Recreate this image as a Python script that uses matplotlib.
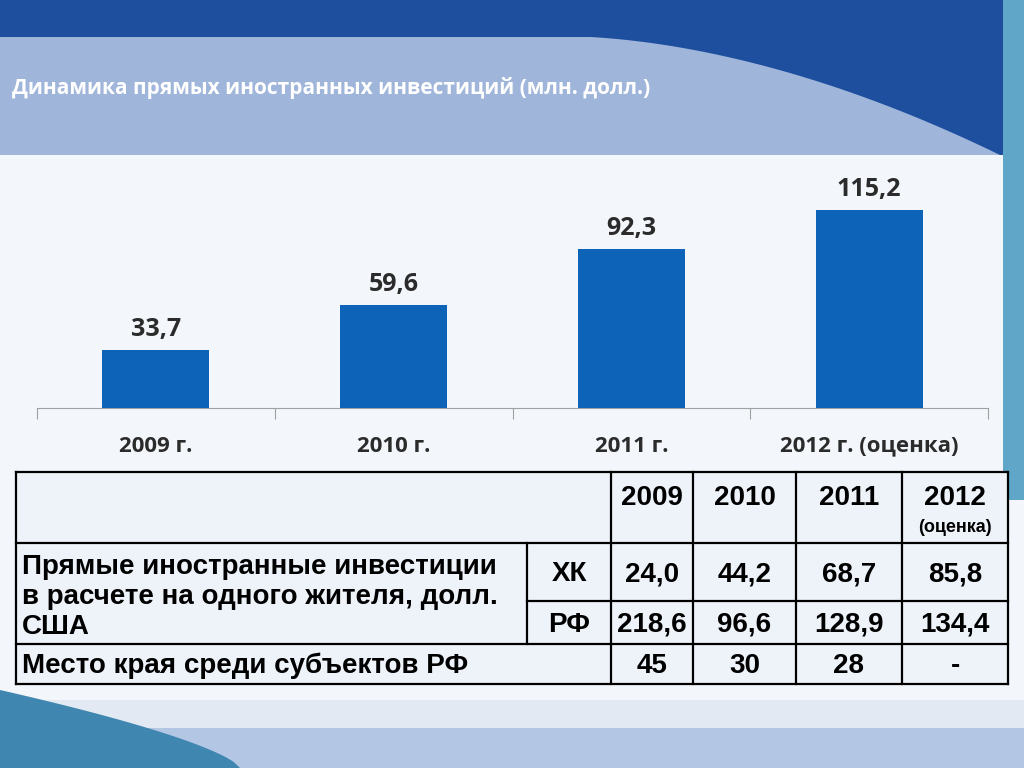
import numpy as np
import matplotlib.pyplot as plt
from matplotlib.patches import Rectangle, Polygon

# bar chart data
years = ["2009 г.", "2010 г.", "2011 г.", "2012 г. (оценка)"]
fdi = [33.7, 59.6, 92.3, 115.2]
value_labels = ["33,7", "59,6", "92,3", "115,2"]

# table data
tbl_years = ["2009", "2010", "2011", "2012"]
per_capita_label = "Прямые иностранные инвестиции\nв расчете на одного жителя, долл.\nСША"
hk_vals = ["24,0", "44,2", "68,7", "85,8"]
rf_vals = ["218,6", "96,6", "128,9", "134,4"]
rank_label = "Место края среди субъектов РФ"
rank_vals = ["45", "30", "28", "-"]

W, H = 1024, 768
BAR_COLOR = "#0d63b7"
NARROW = ["Liberation Sans", "DejaVu Sans"]
HEAD = ["Open Sans", "DejaVu Sans"]


def fx(x):
  return x / W


def fy(y):
  return 1 - y / H


def prect(fig, x0, y0, x1, y1, color, z=0):
  fig.patches.append(Rectangle((fx(x0), fy(y1)), fx(x1 - x0), (y1 - y0) / H,
                               transform=fig.transFigure, color=color, zorder=z, lw=0))


def pline(fig, x0, y0, x1, y1, lw=1.6, color="black"):
  fig.add_artist(plt.Line2D([fx(x0), fx(x1)], [fy(y0), fy(y1)], transform=fig.transFigure,
                            color=color, lw=lw, zorder=5))


fig = plt.figure(figsize=(10.24, 7.68), dpi=100)
fig.patch.set_facecolor("#f3f6fb")

# background bands
prect(fig, 0, 0, W, 37, "#1e4f9f")
prect(fig, 0, 37, W, 155, "#9fb5da")
s = np.linspace(0, 1, 40)
pts = [(fx(560 + 440 * t), fy(36 + 119 * t ** 1.8)) for t in s] + [(1, fy(155)), (1, fy(36))]
fig.patches.append(Polygon(pts, closed=True, transform=fig.transFigure, color="#1e4f9f", lw=0, zorder=0))
prect(fig, 1003, 0, W, 500, "#5fa6c8")
prect(fig, 0, 700, W, 728, "#e3e9f2")
prect(fig, 0, 728, W, H, "#b3c6e4")
bl = [(fx(0), fy(690)), (fx(0), fy(768)), (fx(240), fy(768))] + \
     [(fx(240 * (1 - t)), fy(768 - 78 * t ** 0.7)) for t in s]
fig.patches.append(Polygon(bl, closed=True, transform=fig.transFigure, color="#3f86b0", lw=0, zorder=0))

fig.text(fx(12), fy(88), "Динамика прямых иностранных инвестиций (млн. долл.)",
         color="white", fontsize=15, fontweight="bold", family=HEAD, va="center", ha="left")

# bar chart
ax = fig.add_axes([fx(37), fy(408), fx(988 - 37), (408 - 160) / H])
ax.patch.set_alpha(0)
x = np.arange(len(years))
bars = ax.bar(x, fdi, width=0.45, color=BAR_COLOR, zorder=3)
for b, lab in zip(bars, value_labels):
  ax.annotate(lab, (b.get_x() + b.get_width() / 2, b.get_height()), xytext=(0, 6),
              textcoords="offset points", ha="center", va="bottom",
              fontsize=18, fontweight="bold", family=HEAD, color="#2b2b2b")
ax.set_xlim(-0.5, len(years) - 0.5)
ax.set_ylim(0, 144.2)
ax.set_yticks([])
for sp in ["left", "right", "top"]:
  ax.spines[sp].set_visible(False)
ax.spines["bottom"].set_color("#a0a0a0")
ax.set_xticks(np.arange(len(years) + 1) - 0.5)
ax.set_xticklabels([])
ax.tick_params(axis="x", length=8, color="#a0a0a0", direction="out")
ax.set_xticks(x, minor=True)
ax.set_xticklabels(years, minor=True, fontsize=16, fontweight="bold", family=HEAD, color="#2b2b2b")
ax.tick_params(axis="x", which="minor", length=0, pad=20)

# table
prect(fig, 16, 472, 1008, 684, "#eef3fa", z=1)
cols = [16, 527, 611, 693, 796, 902, 1008]
for y in [472, 543, 644, 684]:
  pline(fig, 16, y, 1008, y)
pline(fig, 527, 601, 1008, 601)
pline(fig, 16, 472, 16, 684)
pline(fig, 1008, 472, 1008, 684)
for c in cols[2:6]:
  pline(fig, c, 472, c, 684)
pline(fig, 527, 543, 527, 644)

tk = dict(family=NARROW, fontsize=20, fontweight="bold", color="black", ha="center", va="center")
centers = [(cols[i] + cols[i + 1]) / 2 for i in range(2, 6)]
for cx, yr in zip(centers, tbl_years):
  fig.text(fx(cx), fy(498), yr, **tk)
fig.text(fx(centers[3]), fy(528), "(оценка)", family=NARROW, fontsize=13, fontweight="bold",
         ha="center", va="center")
fig.text(fx(569), fy(574), "ХК", **tk)
fig.text(fx(569), fy(625), "РФ", **tk)
for cx, hv, rv, kv in zip(centers, hk_vals, rf_vals, rank_vals):
  fig.text(fx(cx), fy(574), hv, **tk)
  fig.text(fx(cx), fy(625), rv, **tk)
  fig.text(fx(cx), fy(666), kv, **tk)
fig.text(fx(22), fy(597), per_capita_label, family=NARROW, fontsize=20, fontweight="bold",
         ha="left", va="center", linespacing=1.2)
fig.text(fx(22), fy(666), rank_label, family=NARROW, fontsize=20, fontweight="bold",
         ha="left", va="center")

plt.savefig("out.png", dpi=100)
